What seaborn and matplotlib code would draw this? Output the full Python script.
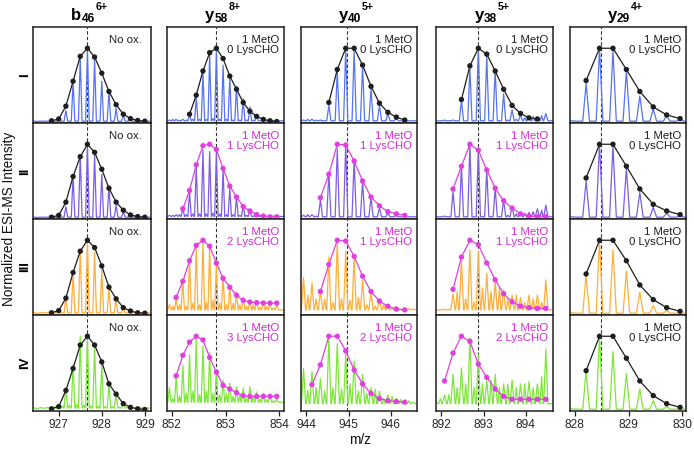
import numpy as np
import pandas as pd
import matplotlib
matplotlib.use("Agg")
import matplotlib.pyplot as plt
import seaborn as sns

sns.set_theme(style="white")
plt.rcParams['font.family'] = ['Liberation Sans', 'DejaVu Sans']

# ---------------- data ----------------
ion_letters = ["b", "y", "y", "y", "y"]
ion_numbers = ["46", "58", "40", "38", "29"]
charges = [6, 8, 5, 5, 4]
grid_start = [926.497, 851.955, 943.93, 891.877, 827.96]   # first isotope position of each column
ref_mz = [927.66, 852.83, 944.95, 892.88, 828.48]         # dashed reference lines
x_limits = [(926.40, 929.14), (851.91, 854.09), (943.87, 946.62),
            (891.874, 894.647), (827.91, 830.07)]
x_ticks = [[927, 928, 929], [852, 853, 854], [944, 945, 946],
           [892, 893, 894], [828, 829, 830]]
row_labels = ["I", "II", "III", "IV"]
lys_cho = [[None] * 4, [0, 1, 2, 3], [0, 1, 1, 2], [0, 1, 1, 2], [0, 0, 0, 0]]

# index of the first envelope point on the isotope grid
env_start = [[2, 2, 2, 2], [3, 2, 1, 1], [3, 2, 2, 1], [3, 2, 2, 1], [1, 1, 1, 1]]

# envelope (fitted distribution) values
b46_env = [[0.01, 0.035, 0.21, 0.55, 0.89, 1.0, 0.88, 0.66, 0.41, 0.23, 0.10, 0.04, 0.015, 0.005],
           [0.005, 0.03, 0.21, 0.56, 0.83, 1.0, 0.89, 0.66, 0.40, 0.21, 0.10, 0.035, 0.013, 0.005],
           [0.01, 0.04, 0.21, 0.56, 0.85, 1.0, 0.90, 0.65, 0.36, 0.20, 0.08, 0.035, 0.01, 0.005],
           [0.01, 0.04, 0.26, 0.56, 0.88, 1.0, 0.88, 0.65, 0.35, 0.21, 0.08, 0.03, 0.01, 0.0]]
y58_env = [[0.10, 0.36, 0.69, 0.94, 1.0, 0.86, 0.62, 0.44, 0.26, 0.14, 0.07, 0.03, 0.01, 0.0],
           [0.12, 0.37, 0.72, 0.98, 1.0, 0.93, 0.67, 0.43, 0.28, 0.15, 0.09, 0.04, 0.02, 0.01, 0.01],
           [0.22, 0.44, 0.72, 0.93, 1.0, 0.92, 0.69, 0.48, 0.36, 0.25, 0.18, 0.157, 0.148, 0.143, 0.143, 0.143],
           [0.46, 0.74, 0.92, 1.0, 0.95, 0.71, 0.51, 0.33, 0.28, 0.23, 0.19, 0.18, 0.18, 0.18, 0.18, 0.18]]
y40_env = [[0.26, 0.71, 1.0, 1.0, 0.77, 0.48, 0.25, 0.125, 0.06, 0.02],
           [0.27, 0.59, 1.0, 0.99, 0.77, 0.50, 0.28, 0.16, 0.08, 0.05, 0.03],
           [0.30, 0.67, 1.0, 0.99, 0.78, 0.51, 0.30, 0.17, 0.10, 0.06, 0.05],
           [0.34, 0.61, 1.0, 1.0, 0.80, 0.54, 0.35, 0.22, 0.15, 0.12, 0.11, 0.10]]
y38_env = [[0.30, 0.76, 1.0, 0.92, 0.69, 0.44, 0.22, 0.11, 0.05, 0.035],
           [0.39, 0.70, 1.0, 0.92, 0.65, 0.40, 0.23, 0.13, 0.05, 0.02, 0.01, 0.01],
           [0.33, 0.77, 1.0, 0.94, 0.69, 0.46, 0.27, 0.16, 0.10, 0.08, 0.07, 0.07],
           [0.39, 0.77, 1.0, 0.93, 0.62, 0.44, 0.28, 0.18, 0.14, 0.14, 0.14, 0.14, 0.14]]
y29_env = [[0.56, 1.0, 1.0, 0.71, 0.41, 0.20, 0.09, 0.04],
           [0.54, 1.0, 1.0, 0.70, 0.39, 0.18, 0.09, 0.04],
           [0.54, 1.0, 1.0, 0.72, 0.39, 0.19, 0.08, 0.03],
           [0.53, 1.0, 1.0, 0.70, 0.39, 0.19, 0.08, 0.03]]

# measured spectrum: isotope-peak heights on the grid
b46_peaks = [[0, 0.005, 0.01, 0.02, 0.15, 0.54, 0.87, 0.98, 0.84, 0.55, 0.42, 0.18, 0.09, 0.04, 0.015, 0.005],
             [0, 0.005, 0.01, 0.02, 0.15, 0.57, 0.85, 0.99, 0.85, 0.59, 0.43, 0.17, 0.08, 0.03, 0.01, 0.005],
             [0, 0.01, 0.02, 0.04, 0.22, 0.55, 0.88, 0.99, 0.83, 0.60, 0.35, 0.20, 0.10, 0.04, 0.015, 0.005],
             [0.01, 0.02, 0.03, 0.06, 0.30, 0.62, 1.0, 1.0, 0.86, 0.62, 0.35, 0.20, 0.10, 0.05, 0.02, 0.01]]
y58_peaks = [[0.02, 0.03, 0.03, 0.09, 0.33, 0.66, 0.92, 0.96, 0.77, 0.61, 0.48, 0.31, 0.20, 0.09, 0.05, 0.03, 0.02],
             [0.03, 0.04, 0.13, 0.35, 0.69, 0.92, 0.90, 0.90, 0.65, 0.40, 0.28, 0.17, 0.10, 0.05, 0.03, 0.02, 0.02],
             [0.12, 0.20, 0.45, 0.76, 0.90, 0.99, 0.92, 0.67, 0.52, 0.38, 0.29, 0.22, 0.18, 0.18, 0.16, 0.14, 0.12],
             [0.30, 0.45, 0.60, 0.75, 0.98, 0.87, 0.78, 0.54, 0.40, 0.36, 0.31, 0.29, 0.31, 0.24, 0.22, 0.18, 0.15]]
y40_peaks = [[0.02, 0.03, 0.02, 0.22, 0.69, 1.0, 0.98, 0.76, 0.45, 0.22, 0.11, 0.05, 0.02, 0.01],
             [0.03, 0.04, 0.24, 0.61, 0.94, 1.0, 0.80, 0.50, 0.27, 0.13, 0.06, 0.03, 0.02, 0.01],
             [0.49, 0.42, 0.30, 0.77, 0.98, 0.85, 0.78, 0.46, 0.30, 0.20, 0.12, 0.10, 0.08, 0.06],
             [0.56, 0.52, 0.42, 0.99, 0.90, 0.75, 0.66, 0.48, 0.30, 0.25, 0.20, 0.15, 0.12, 0.10]]
y38_peaks = [[0.01, 0.02, 0.02, 0.29, 0.73, 1.0, 0.89, 0.71, 0.38, 0.16, 0.09, 0.06, 0.05, 0.11],
             [0.01, 0.02, 0.36, 0.71, 1.0, 0.94, 0.65, 0.40, 0.24, 0.14, 0.06, 0.07, 0.12, 0.17],
             [0.05, 0.06, 0.27, 0.73, 0.87, 0.85, 0.55, 0.44, 0.32, 0.25, 0.22, 0.25, 0.25, 0.46],
             [0.10, 0.20, 0.48, 0.57, 0.98, 0.75, 0.40, 0.48, 0.35, 0.40, 0.35, 0.38, 0.35, 0.82]]
y29_peaks = [[0.01, 0.52, 1.0, 0.97, 0.69, 0.35, 0.17, 0.08, 0.04],
             [0.01, 0.50, 1.0, 0.98, 0.67, 0.34, 0.14, 0.06, 0.03],
             [0.01, 0.52, 1.0, 0.87, 0.58, 0.29, 0.11, 0.04, 0.02],
             [0.01, 0.53, 1.0, 0.79, 0.49, 0.28, 0.12, 0.04, 0.02]]

# minor (non-isotope) peaks between isotopes and baseline noise level
b46_minor = [[0.0] * 15, [0.0] * 15, [0.0] * 15,
             [0.03, 0.03, 0.04, 0.05, 0.06, 0.07, 0.06, 0.05, 0.05, 0.04, 0.04, 0.03, 0.03, 0.02, 0.02]]
y58_minor = [[0.03, 0.02, 0.02, 0.03, 0.03, 0.03, 0.04, 0.03, 0.03, 0.02, 0.02, 0.02, 0.02, 0.01, 0.01, 0.01],
             [0.03, 0.04, 0.04, 0.05, 0.05, 0.05, 0.06, 0.05, 0.04, 0.04, 0.03, 0.03, 0.02, 0.02, 0.02, 0.02],
             [0.10, 0.12, 0.10, 0.14, 0.12, 0.15, 0.18, 0.14, 0.12, 0.14, 0.12, 0.10, 0.12, 0.09, 0.10, 0.08],
             [0.15, 0.18, 0.22, 0.25, 0.20, 0.25, 0.22, 0.20, 0.22, 0.18, 0.20, 0.16, 0.18, 0.15, 0.14, 0.12]]
y40_minor = [[0.03, 0.02, 0.01, 0, 0, 0, 0, 0, 0, 0, 0, 0, 0],
             [0.04, 0.02, 0.01, 0, 0, 0, 0, 0, 0, 0, 0, 0, 0],
             [0.25, 0.20, 0.20, 0.15, 0.20, 0.18, 0.22, 0.12, 0.10, 0.12, 0.08, 0.06, 0.07],
             [0.26, 0.30, 0.25, 0.30, 0.28, 0.35, 0.25, 0.22, 0.28, 0.15, 0.18, 0.14, 0.12]]
y38_minor = [[0, 0, 0, 0, 0, 0, 0, 0, 0.02, 0.03, 0.05, 0.07, 0.08],
             [0, 0, 0, 0, 0, 0, 0, 0, 0.03, 0.05, 0.06, 0.08, 0.10],
             [0.05, 0.06, 0.30, 0.20, 0.15, 0.35, 0.30, 0.35, 0.20, 0.25, 0.15, 0.20, 0.15],
             [0.15, 0.20, 0.30, 0.35, 0.30, 0.35, 0.40, 0.30, 0.35, 0.30, 0.35, 0.30, 0.45]]
y29_minor = [[0.0] * 8] * 4

baseline = [[0.005, 0.005, 0.01, 0.02], [0.01, 0.015, 0.05, 0.10], [0.01, 0.01, 0.05, 0.08],
            [0.01, 0.01, 0.05, 0.08], [0.005, 0.005, 0.005, 0.005]]

env_data = [b46_env, y58_env, y40_env, y38_env, y29_env]
peak_data = [b46_peaks, y58_peaks, y40_peaks, y38_peaks, y29_peaks]
minor_data = [b46_minor, y58_minor, y40_minor, y38_minor, y29_minor]

# ---------------- style ----------------
row_colors = ["#5674EE", "#7C5DE4", "#FFAE3A", "#7EE63A"]
MAGENTA = "#E040E0"
MAG_TEXT = "#D42AD4"
DARK = "#1E1E1E"

W, H = 694, 450
col_x = [(33, 151), (167, 284), (301, 417), (436, 553), (570, 686)]
row_y = [(27, 123), (123, 219), (219, 315), (315, 411)]
YLIM = (-0.02, 1.29)

fig = plt.figure(figsize=(W / 100, H / 100), dpi=100)
renderer = fig.canvas.get_renderer()


def trace_points(pos, peaks, minor, base, s, xlim):
    xs, ys = [xlim[0]], [base]
    w = 0.25 * s
    for k, (p, h) in enumerate(zip(pos, peaks)):
        xs += [p - w, p, p + w]
        ys += [base, h, base]
        if k < len(minor) and minor[k] > base:
            m = p + s / 2
            xs += [m - 0.18 * s, m, m + 0.18 * s]
            ys += [base, minor[k], base]
    xs.append(xlim[1])
    ys.append(base)
    return np.array(xs), np.array(ys)


for c in range(5):
    s = 1.0 / charges[c]
    n = len(peak_data[c][0])
    grid = grid_start[c] + s * np.arange(n)
    for r in range(4):
        x0, x1 = col_x[c]
        y0, y1 = row_y[r]
        ax = fig.add_axes([x0 / W, 1 - y1 / H, (x1 - x0) / W, (y1 - y0) / H])
        ax.set_xlim(*x_limits[c])
        ax.set_ylim(*YLIM)

        # spectrum
        tx, ty = trace_points(grid, peak_data[c][r], minor_data[c][r], baseline[c][r], s, x_limits[c])
        sns.lineplot(x=tx, y=ty, ax=ax, color=row_colors[r], linewidth=0.9,
                     sort=False, estimator=None, zorder=2)

        # dashed reference
        ax.axvline(ref_mz[c], color="#333333", linewidth=0.8, linestyle=(0, (3, 2)), zorder=1)

        # envelope
        lc = lys_cho[c][r]
        env_col = DARK if (lc is None or lc == 0) else MAGENTA
        ev = env_data[c][r]
        ex = grid[env_start[c][r]: env_start[c][r] + len(ev)]
        env_df = pd.DataFrame({"mz": ex, "I": ev})
        sns.lineplot(data=env_df, x="mz", y="I", ax=ax, color=env_col, linewidth=0.9,
                     sort=False, estimator=None, zorder=3)
        sns.scatterplot(data=env_df, x="mz", y="I", ax=ax, color=env_col, s=15,
                        edgecolor="none", linewidth=0, zorder=4)

        # annotation
        if lc is None:
            ax.text(1 - 9 / (x1 - x0), 1 - 8 / (y1 - y0), "No ox.", transform=ax.transAxes,
                    ha="right", va="top", fontsize=8.2, color=DARK)
        else:
            tcol = DARK if lc == 0 else MAG_TEXT
            ax.text(1 - 5 / (x1 - x0), 1 - 8 / (y1 - y0), f"1 MetO\n{lc} LysCHO",
                    transform=ax.transAxes, ha="right", va="top",
                    fontsize=8.2, color=tcol, linespacing=1.0)

        ax.set_xlabel("")
        ax.set_ylabel("")
        ax.set_yticks([])
        for sp in ax.spines.values():
            sp.set_color("#202020")
            sp.set_linewidth(1.1)
        if r == 3:
            ax.set_xticks(x_ticks[c])
            ax.set_xticklabels([str(t) for t in x_ticks[c]])
            ax.tick_params(axis="x", direction="out", length=3.5, width=0.9,
                           color="#202020", labelsize=8.6, pad=2.5, bottom=True)
        else:
            ax.set_xticks([])

    # column title: letter, subscript ion number, superscript charge
    parts = [(ion_letters[c], 12.0, 20.0), (ion_numbers[c], 8.6, 21.5), (f"{charges[c]}+", 7.6, 9.5)]
    widths = []
    for txt, fs, _ in parts:
        t = fig.text(0, 0, txt, fontsize=fs, fontweight="bold")
        widths.append(t.get_window_extent(renderer).width)
        t.remove()
    total = sum(widths) + 1
    xs = (col_x[c][0] + col_x[c][1]) / 2 - 2.5 - total / 2
    for (txt, fs, yb), wdt in zip(parts, widths):
        fig.text(xs / W, 1 - yb / H, txt, fontsize=fs, fontweight="bold",
                 ha="left", va="baseline", color="black")
        xs += wdt + (0.8 if txt == ion_numbers[c] else 0)

for r in range(4):
    yc = (row_y[r][0] + row_y[r][1]) / 2
    fig.text(25 / W, 1 - yc / H, row_labels[r], rotation=90, ha="center", va="center",
             fontsize=9.5, fontweight="bold", color="black")

fig.text(9 / W, 1 - 219 / H, "Normalized ESI-MS Intensity", rotation=90,
         ha="center", va="center", fontsize=9.8, color="#111111")
fig.text(360 / W, 1 - 440 / H, "m/z", ha="center", va="center", fontsize=9.8, color="#111111")

fig.savefig("out.png", dpi=100)
